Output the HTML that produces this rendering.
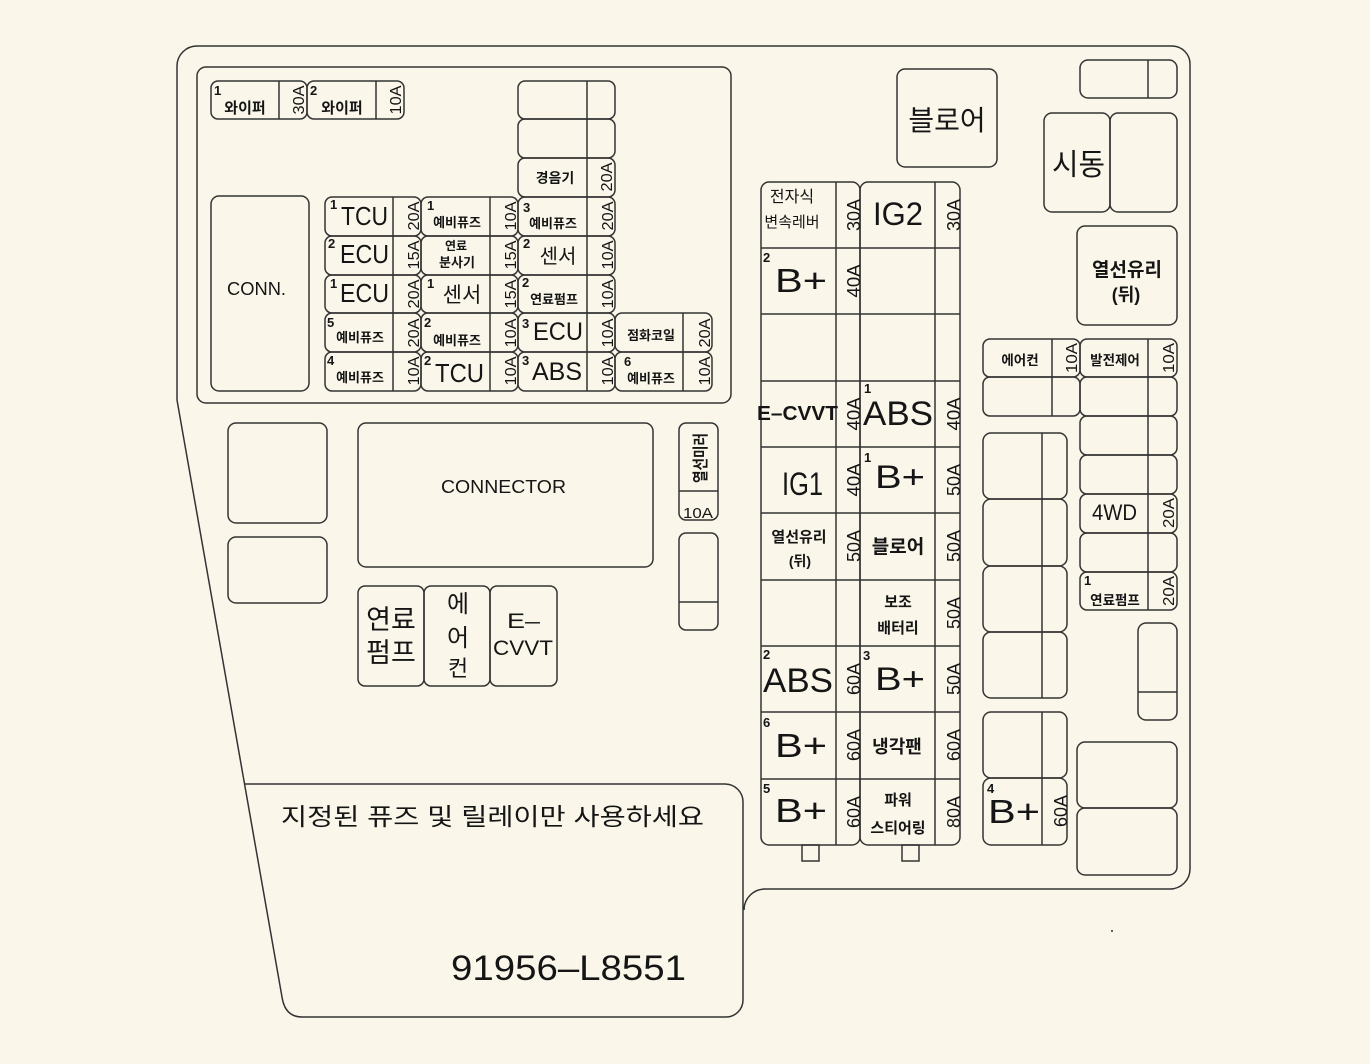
<!DOCTYPE html>
<html><head><meta charset="utf-8">
<style>
html,body{margin:0;padding:0;background:#faf7ea;}
svg{display:block;}
.l{fill:none;stroke:#333;stroke-width:1.5;}
text{font-family:"Liberation Sans","Noto Sans CJK KR",sans-serif;fill:#151515;}
.k{font-family:"Liberation Sans","Noto Sans CJK KR",sans-serif;}
.b{font-weight:bold;}
.n{font-weight:bold;font-size:13px;}
.a{font-size:16px;}
.m{font-size:18px;}
</style></head>
<body>
<svg width="1370" height="1064" viewBox="0 0 1370 1064" xmlns="http://www.w3.org/2000/svg">
<rect width="1370" height="1064" fill="#faf7ea"/>
<!-- outer boundary -->
<path class="l" d="M177,400 L177,66 A20,20 0 0 1 197,46 L1172,46 A18,18 0 0 1 1190,64 L1190,869 A20,20 0 0 1 1170,889 L765,889 A21,21 0 0 0 744,910"/>
<path class="l" d="M244.5,784 L725,784 A18,18 0 0 1 743,802 L743,1000 A17,17 0 0 1 726,1017 L302,1017 Q285,1017 282,997 L177,400"/>
<circle cx="1112" cy="931" r="1" fill="#333"/>

<!-- top-left box -->
<rect class="l" x="197" y="67" width="534" height="336" rx="9"/>
<!-- wipers -->
<rect class="l" x="211" y="81" width="96" height="38" rx="7"/><line class="l" x1="279" y1="81" x2="279" y2="119"/>
<rect class="l" x="307" y="81" width="97" height="38" rx="7"/><line class="l" x1="376" y1="81" x2="376" y2="119"/>
<text class="n" x="214" y="95">1</text>
<text class="k b" x="245" y="113" font-size="15" text-anchor="middle">와이퍼</text>
<text class="n" x="310" y="95">2</text>
<text class="k b" x="342" y="113" font-size="15" text-anchor="middle">와이퍼</text>
<text class="a" transform="translate(304,100) rotate(-90)" text-anchor="middle" textLength="29" lengthAdjust="spacingAndGlyphs">30A</text>
<text class="a" transform="translate(401,100) rotate(-90)" text-anchor="middle" textLength="29" lengthAdjust="spacingAndGlyphs">10A</text>

<!-- col C upper -->
<rect class="l" x="518" y="81" width="97" height="38" rx="7"/><line class="l" x1="587" y1="81" x2="587" y2="119"/>
<rect class="l" x="518" y="119" width="97" height="39" rx="7"/><line class="l" x1="587" y1="119" x2="587" y2="158"/>
<rect class="l" x="518" y="158" width="97" height="39" rx="7"/><line class="l" x1="587" y1="158" x2="587" y2="197"/>
<text class="k b" x="555" y="183" font-size="14" text-anchor="middle">경음기</text>
<text class="a" transform="translate(612,177) rotate(-90)" text-anchor="middle" textLength="29" lengthAdjust="spacingAndGlyphs">20A</text>

<!-- CONN -->
<rect class="l" x="211" y="196" width="98" height="195" rx="8"/>
<text x="227" y="295" font-size="18" textLength="59" lengthAdjust="spacingAndGlyphs">CONN.</text>

<!-- grid rows -->
<g>
<!-- Row1 y197 -->
<rect class="l" x="325" y="197" width="96" height="39" rx="7"/><line class="l" x1="393" y1="197" x2="393" y2="236"/>
<rect class="l" x="421" y="197" width="97" height="39" rx="7"/><line class="l" x1="490" y1="197" x2="490" y2="236"/>
<rect class="l" x="518" y="197" width="97" height="39" rx="7"/><line class="l" x1="587" y1="197" x2="587" y2="236"/>
<!-- Row2 -->
<rect class="l" x="325" y="236" width="96" height="39" rx="7"/><line class="l" x1="393" y1="236" x2="393" y2="275"/>
<rect class="l" x="421" y="236" width="97" height="39" rx="7"/><line class="l" x1="490" y1="236" x2="490" y2="275"/>
<rect class="l" x="518" y="236" width="97" height="39" rx="7"/><line class="l" x1="587" y1="236" x2="587" y2="275"/>
<!-- Row3 -->
<rect class="l" x="325" y="275" width="96" height="38" rx="7"/><line class="l" x1="393" y1="275" x2="393" y2="313"/>
<rect class="l" x="421" y="275" width="97" height="38" rx="7"/><line class="l" x1="490" y1="275" x2="490" y2="313"/>
<rect class="l" x="518" y="275" width="97" height="38" rx="7"/><line class="l" x1="587" y1="275" x2="587" y2="313"/>
<!-- Row4 -->
<rect class="l" x="325" y="313" width="96" height="39" rx="7"/><line class="l" x1="393" y1="313" x2="393" y2="352"/>
<rect class="l" x="421" y="313" width="97" height="39" rx="7"/><line class="l" x1="490" y1="313" x2="490" y2="352"/>
<rect class="l" x="518" y="313" width="97" height="39" rx="7"/><line class="l" x1="587" y1="313" x2="587" y2="352"/>
<rect class="l" x="615" y="313" width="97" height="39" rx="7"/><line class="l" x1="683" y1="313" x2="683" y2="352"/>
<!-- Row5 -->
<rect class="l" x="325" y="352" width="96" height="39" rx="7"/><line class="l" x1="393" y1="352" x2="393" y2="391"/>
<rect class="l" x="421" y="352" width="97" height="39" rx="7"/><line class="l" x1="490" y1="352" x2="490" y2="391"/>
<rect class="l" x="518" y="352" width="97" height="39" rx="7"/><line class="l" x1="587" y1="352" x2="587" y2="391"/>
<rect class="l" x="615" y="352" width="97" height="39" rx="7"/><line class="l" x1="683" y1="352" x2="683" y2="391"/>
</g>

<!-- grid labels -->
<text class="n" x="330" y="209">1</text>
<text x="341" y="225" font-size="26" textLength="47" lengthAdjust="spacingAndGlyphs">TCU</text>
<text class="n" x="427" y="210">1</text>
<text class="k b" x="457" y="227" font-size="13" text-anchor="middle">예비퓨즈</text>
<text class="n" x="523" y="212">3</text>
<text class="k b" x="553" y="228" font-size="13" text-anchor="middle">예비퓨즈</text>

<text class="n" x="328" y="248">2</text>
<text x="340" y="263" font-size="26" textLength="49" lengthAdjust="spacingAndGlyphs">ECU</text>
<text class="k b" x="456" y="250" font-size="12" text-anchor="middle">연료</text>
<text class="k b" x="457" y="267" font-size="13" text-anchor="middle">분사기</text>
<text class="n" x="523" y="248">2</text>
<text class="k" x="558" y="263" font-size="20" text-anchor="middle">센서</text>

<text class="n" x="330" y="288">1</text>
<text x="340" y="302" font-size="26" textLength="49" lengthAdjust="spacingAndGlyphs">ECU</text>
<text class="n" x="427" y="288">1</text>
<text class="k" x="462" y="302" font-size="21" text-anchor="middle">센서</text>
<text class="n" x="522" y="287">2</text>
<text class="k b" x="554" y="304" font-size="13" text-anchor="middle">연료펌프</text>

<text class="n" x="327" y="327">5</text>
<text class="k b" x="360" y="342" font-size="13" text-anchor="middle">예비퓨즈</text>
<text class="n" x="424" y="327">2</text>
<text class="k b" x="457" y="345" font-size="13" text-anchor="middle">예비퓨즈</text>
<text class="n" x="522" y="328">3</text>
<text x="533" y="340" font-size="25" textLength="50" lengthAdjust="spacingAndGlyphs">ECU</text>
<text class="k b" x="651" y="340" font-size="13" text-anchor="middle">점화코일</text>

<text class="n" x="327" y="365">4</text>
<text class="k b" x="360" y="382" font-size="13" text-anchor="middle">예비퓨즈</text>
<text class="n" x="424" y="365">2</text>
<text x="435" y="382" font-size="26" textLength="49" lengthAdjust="spacingAndGlyphs">TCU</text>
<text class="n" x="522" y="365">3</text>
<text x="532" y="380" font-size="25" textLength="50" lengthAdjust="spacingAndGlyphs">ABS</text>
<text class="n" x="624" y="366">6</text>
<text class="k b" x="651" y="383" font-size="13" text-anchor="middle">예비퓨즈</text>

<!-- grid amps -->
<g class="a">
<text transform="translate(419,216) rotate(-90)" text-anchor="middle" textLength="29" lengthAdjust="spacingAndGlyphs">20A</text>
<text transform="translate(516,216) rotate(-90)" text-anchor="middle" textLength="29" lengthAdjust="spacingAndGlyphs">10A</text>
<text transform="translate(613,216) rotate(-90)" text-anchor="middle" textLength="29" lengthAdjust="spacingAndGlyphs">20A</text>
<text transform="translate(419,255) rotate(-90)" text-anchor="middle" textLength="29" lengthAdjust="spacingAndGlyphs">15A</text>
<text transform="translate(516,255) rotate(-90)" text-anchor="middle" textLength="29" lengthAdjust="spacingAndGlyphs">15A</text>
<text transform="translate(613,255) rotate(-90)" text-anchor="middle" textLength="29" lengthAdjust="spacingAndGlyphs">10A</text>
<text transform="translate(419,294) rotate(-90)" text-anchor="middle" textLength="29" lengthAdjust="spacingAndGlyphs">20A</text>
<text transform="translate(516,294) rotate(-90)" text-anchor="middle" textLength="29" lengthAdjust="spacingAndGlyphs">15A</text>
<text transform="translate(613,294) rotate(-90)" text-anchor="middle" textLength="29" lengthAdjust="spacingAndGlyphs">10A</text>
<text transform="translate(419,333) rotate(-90)" text-anchor="middle" textLength="29" lengthAdjust="spacingAndGlyphs">20A</text>
<text transform="translate(516,333) rotate(-90)" text-anchor="middle" textLength="29" lengthAdjust="spacingAndGlyphs">10A</text>
<text transform="translate(613,333) rotate(-90)" text-anchor="middle" textLength="29" lengthAdjust="spacingAndGlyphs">10A</text>
<text transform="translate(710,333) rotate(-90)" text-anchor="middle" textLength="29" lengthAdjust="spacingAndGlyphs">20A</text>
<text transform="translate(419,371) rotate(-90)" text-anchor="middle" textLength="29" lengthAdjust="spacingAndGlyphs">10A</text>
<text transform="translate(516,371) rotate(-90)" text-anchor="middle" textLength="29" lengthAdjust="spacingAndGlyphs">10A</text>
<text transform="translate(613,371) rotate(-90)" text-anchor="middle" textLength="29" lengthAdjust="spacingAndGlyphs">10A</text>
<text transform="translate(710,371) rotate(-90)" text-anchor="middle" textLength="29" lengthAdjust="spacingAndGlyphs">10A</text>
</g>

<!-- left middle -->
<rect class="l" x="228" y="423" width="99" height="100" rx="8"/>
<rect class="l" x="228" y="537" width="99" height="66" rx="8"/>
<rect class="l" x="358" y="423" width="295" height="144" rx="8"/>
<text x="441" y="493" font-size="18" textLength="125" lengthAdjust="spacingAndGlyphs">CONNECTOR</text>
<rect class="l" x="679" y="423" width="39" height="97" rx="7"/><line class="l" x1="679" y1="491" x2="718" y2="491"/>
<text class="k b" transform="translate(706,458) rotate(-90)" font-size="16" text-anchor="middle" textLength="50" lengthAdjust="spacingAndGlyphs">열선미러</text>
<text x="683" y="518" font-size="15" textLength="30" lengthAdjust="spacingAndGlyphs">10A</text>
<rect class="l" x="679" y="533" width="39" height="97" rx="7"/><line class="l" x1="679" y1="602" x2="718" y2="602"/>

<rect class="l" x="358" y="586" width="66" height="100" rx="7"/>
<rect class="l" x="424" y="586" width="66" height="100" rx="7"/>
<rect class="l" x="490" y="586" width="67" height="100" rx="7"/>
<text class="k" x="391" y="629" font-size="27" text-anchor="middle">연료</text>
<text class="k" x="391" y="662" font-size="27" text-anchor="middle">펌프</text>
<text class="k" x="458" y="612" font-size="24" text-anchor="middle">에</text>
<text class="k" x="458" y="646" font-size="24" text-anchor="middle">어</text>
<text class="k" x="458" y="676" font-size="22" text-anchor="middle">컨</text>
<text x="507" y="628" font-size="21" textLength="33" lengthAdjust="spacingAndGlyphs">E–</text>
<text x="493" y="655" font-size="21" textLength="60" lengthAdjust="spacingAndGlyphs">CVVT</text>

<!-- bottom text -->
<text class="k" x="281" y="825" font-size="24" textLength="423" lengthAdjust="spacingAndGlyphs">지정된 퓨즈 및 릴레이만 사용하세요</text>
<text x="451" y="980" font-size="35" textLength="235" lengthAdjust="spacingAndGlyphs">91956–L8551</text>

<!-- middle column -->
<rect class="l" x="761" y="182" width="99" height="663" rx="8"/>
<rect class="l" x="860" y="182" width="100" height="663" rx="8"/>
<line class="l" x1="836" y1="182" x2="836" y2="845"/>
<line class="l" x1="935" y1="182" x2="935" y2="845"/>
<g class="l">
<line x1="761" y1="248" x2="960" y2="248"/>
<line x1="761" y1="314" x2="960" y2="314"/>
<line x1="761" y1="381" x2="960" y2="381"/>
<line x1="761" y1="447" x2="960" y2="447"/>
<line x1="761" y1="513" x2="960" y2="513"/>
<line x1="761" y1="580" x2="960" y2="580"/>
<line x1="761" y1="646" x2="960" y2="646"/>
<line x1="761" y1="712" x2="960" y2="712"/>
<line x1="761" y1="779" x2="960" y2="779"/>
</g>
<rect class="l" x="802" y="845" width="17" height="16"/>
<rect class="l" x="902" y="845" width="17" height="16"/>

<text class="k" x="792" y="202" font-size="16" text-anchor="middle">전자식</text>
<text class="k" x="792" y="227" font-size="15" text-anchor="middle">변속레버</text>
<text x="873" y="225" font-size="32" textLength="50" lengthAdjust="spacingAndGlyphs">IG2</text>
<text class="n" x="763" y="262">2</text>
<text x="775" y="292" font-size="33" textLength="52" lengthAdjust="spacingAndGlyphs">B+</text>
<text class="b" x="757" y="420" font-size="20" textLength="81" lengthAdjust="spacingAndGlyphs">E–CVVT</text>
<text class="n" x="864" y="393">1</text>
<text x="863" y="425" font-size="34" textLength="70" lengthAdjust="spacingAndGlyphs">ABS</text>
<text x="782" y="495" font-size="32" textLength="41" lengthAdjust="spacingAndGlyphs">IG1</text>
<text class="n" x="864" y="462">1</text>
<text x="875" y="488" font-size="32" textLength="50" lengthAdjust="spacingAndGlyphs">B+</text>
<text class="k b" x="799" y="542" font-size="15" text-anchor="middle">열선유리</text>
<text class="k b" x="800" y="566" font-size="14" text-anchor="middle">(뒤)</text>
<text class="k b" x="898" y="553" font-size="19" text-anchor="middle">블로어</text>
<text class="k b" x="898" y="607" font-size="15" text-anchor="middle">보조</text>
<text class="k b" x="898" y="633" font-size="15" text-anchor="middle">배터리</text>
<text class="n" x="763" y="659">2</text>
<text x="763" y="692" font-size="34" textLength="70" lengthAdjust="spacingAndGlyphs">ABS</text>
<text class="n" x="863" y="660">3</text>
<text x="875" y="690" font-size="32" textLength="50" lengthAdjust="spacingAndGlyphs">B+</text>
<text class="n" x="763" y="727">6</text>
<text x="775" y="757" font-size="33" textLength="52" lengthAdjust="spacingAndGlyphs">B+</text>
<text class="k b" x="897" y="753" font-size="18" text-anchor="middle">냉각팬</text>
<text class="n" x="763" y="793">5</text>
<text x="775" y="822" font-size="33" textLength="52" lengthAdjust="spacingAndGlyphs">B+</text>
<text class="k b" x="898" y="805" font-size="15" text-anchor="middle">파워</text>
<text class="k b" x="898" y="833" font-size="15" text-anchor="middle">스티어링</text>

<g class="m">
<text transform="translate(860,215) rotate(-90)" text-anchor="middle" textLength="32" lengthAdjust="spacingAndGlyphs">30A</text>
<text transform="translate(860,281) rotate(-90)" text-anchor="middle" textLength="33" lengthAdjust="spacingAndGlyphs">40A</text>
<text transform="translate(860,414) rotate(-90)" text-anchor="middle" textLength="33" lengthAdjust="spacingAndGlyphs">40A</text>
<text transform="translate(860,480) rotate(-90)" text-anchor="middle" textLength="33" lengthAdjust="spacingAndGlyphs">40A</text>
<text transform="translate(860,546) rotate(-90)" text-anchor="middle" textLength="32" lengthAdjust="spacingAndGlyphs">50A</text>
<text transform="translate(860,679) rotate(-90)" text-anchor="middle" textLength="32" lengthAdjust="spacingAndGlyphs">60A</text>
<text transform="translate(860,745) rotate(-90)" text-anchor="middle" textLength="32" lengthAdjust="spacingAndGlyphs">60A</text>
<text transform="translate(860,812) rotate(-90)" text-anchor="middle" textLength="32" lengthAdjust="spacingAndGlyphs">60A</text>
<text transform="translate(960,215) rotate(-90)" text-anchor="middle" textLength="32" lengthAdjust="spacingAndGlyphs">30A</text>
<text transform="translate(960,414) rotate(-90)" text-anchor="middle" textLength="33" lengthAdjust="spacingAndGlyphs">40A</text>
<text transform="translate(960,480) rotate(-90)" text-anchor="middle" textLength="32" lengthAdjust="spacingAndGlyphs">50A</text>
<text transform="translate(960,546) rotate(-90)" text-anchor="middle" textLength="32" lengthAdjust="spacingAndGlyphs">50A</text>
<text transform="translate(960,613) rotate(-90)" text-anchor="middle" textLength="32" lengthAdjust="spacingAndGlyphs">50A</text>
<text transform="translate(960,679) rotate(-90)" text-anchor="middle" textLength="32" lengthAdjust="spacingAndGlyphs">50A</text>
<text transform="translate(960,745) rotate(-90)" text-anchor="middle" textLength="32" lengthAdjust="spacingAndGlyphs">60A</text>
<text transform="translate(960,812) rotate(-90)" text-anchor="middle" textLength="32" lengthAdjust="spacingAndGlyphs">80A</text>
</g>

<!-- right area -->
<rect class="l" x="897" y="69" width="100" height="98" rx="8"/>
<text class="k" x="947" y="130" font-size="28" text-anchor="middle">블로어</text>
<rect class="l" x="1080" y="60" width="97" height="38" rx="8"/><line class="l" x1="1148" y1="60" x2="1148" y2="98"/>
<rect class="l" x="1044" y="113" width="66" height="99" rx="8"/>
<rect class="l" x="1110" y="113" width="67" height="99" rx="8"/>
<text class="k" x="1052" y="175" font-size="30" textLength="53" lengthAdjust="spacingAndGlyphs">시동</text>
<rect class="l" x="1077" y="226" width="100" height="99" rx="8"/>
<text class="k b" x="1127" y="276" font-size="19" text-anchor="middle">열선유리</text>
<text class="k b" x="1126" y="301" font-size="18" text-anchor="middle">(뒤)</text>

<rect class="l" x="983" y="339" width="97" height="38" rx="7"/><line class="l" x1="1052" y1="339" x2="1052" y2="377"/>
<rect class="l" x="983" y="377" width="97" height="39" rx="7"/><line class="l" x1="1052" y1="377" x2="1052" y2="416"/>
<text class="k b" x="1020" y="365" font-size="13.5" text-anchor="middle">에어컨</text>
<rect class="l" x="1080" y="339" width="97" height="38" rx="7"/><line class="l" x1="1148" y1="339" x2="1148" y2="377"/>
<text class="k b" x="1115" y="365" font-size="13.5" text-anchor="middle">발전제어</text>
<rect class="l" x="1080" y="377" width="97" height="39" rx="7"/><line class="l" x1="1148" y1="377" x2="1148" y2="416"/>
<rect class="l" x="1080" y="416" width="97" height="39" rx="7"/><line class="l" x1="1148" y1="416" x2="1148" y2="455"/>
<rect class="l" x="1080" y="455" width="97" height="39" rx="7"/><line class="l" x1="1148" y1="455" x2="1148" y2="494"/>
<rect class="l" x="1080" y="494" width="97" height="39" rx="7"/><line class="l" x1="1148" y1="494" x2="1148" y2="533"/>
<text x="1092" y="520" font-size="22" textLength="45" lengthAdjust="spacingAndGlyphs">4WD</text>
<rect class="l" x="1080" y="533" width="97" height="39" rx="7"/><line class="l" x1="1148" y1="533" x2="1148" y2="572"/>
<rect class="l" x="1080" y="572" width="97" height="38" rx="7"/><line class="l" x1="1148" y1="572" x2="1148" y2="610"/>
<text class="n" x="1084" y="585">1</text>
<text class="k b" x="1115" y="605" font-size="13.5" text-anchor="middle">연료펌프</text>
<g class="a">
<text transform="translate(1077,358) rotate(-90)" text-anchor="middle" textLength="30" lengthAdjust="spacingAndGlyphs">10A</text>
<text transform="translate(1174,358) rotate(-90)" text-anchor="middle" textLength="30" lengthAdjust="spacingAndGlyphs">10A</text>
<text transform="translate(1174,513) rotate(-90)" text-anchor="middle" textLength="30" lengthAdjust="spacingAndGlyphs">20A</text>
<text transform="translate(1174,591) rotate(-90)" text-anchor="middle" textLength="30" lengthAdjust="spacingAndGlyphs">20A</text>
</g>

<!-- left group right side -->
<rect class="l" x="983" y="433" width="84" height="66" rx="8"/><line class="l" x1="1042" y1="433" x2="1042" y2="499"/>
<rect class="l" x="983" y="499" width="84" height="67" rx="8"/><line class="l" x1="1042" y1="499" x2="1042" y2="566"/>
<rect class="l" x="983" y="566" width="84" height="66" rx="8"/><line class="l" x1="1042" y1="566" x2="1042" y2="632"/>
<rect class="l" x="983" y="632" width="84" height="66" rx="8"/><line class="l" x1="1042" y1="632" x2="1042" y2="698"/>
<rect class="l" x="983" y="712" width="84" height="66" rx="8"/><line class="l" x1="1042" y1="712" x2="1042" y2="778"/>
<rect class="l" x="983" y="778" width="84" height="67" rx="8"/><line class="l" x1="1042" y1="778" x2="1042" y2="845"/>
<text class="n" x="987" y="793">4</text>
<text x="988" y="823" font-size="33" textLength="52" lengthAdjust="spacingAndGlyphs">B+</text>
<text class="m" transform="translate(1067,811) rotate(-90)" text-anchor="middle" textLength="32" lengthAdjust="spacingAndGlyphs">60A</text>

<rect class="l" x="1138" y="623" width="39" height="97" rx="8"/><line class="l" x1="1138" y1="692" x2="1177" y2="692"/>
<rect class="l" x="1077" y="742" width="100" height="66" rx="8"/>
<rect class="l" x="1077" y="808" width="100" height="67" rx="8"/>
</svg>
</body></html>
